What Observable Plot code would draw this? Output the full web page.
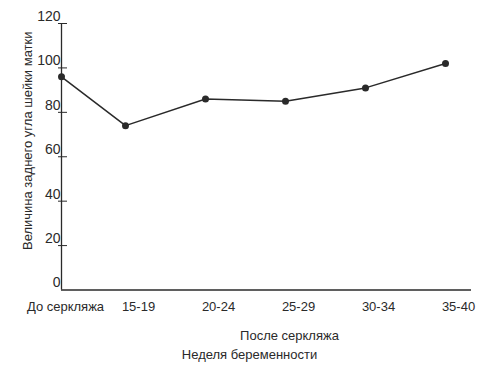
<!DOCTYPE html>
<html><head><meta charset="utf-8">
<script src="https://cdn.jsdelivr.net/npm/d3@7"></script>
<script src="https://cdn.jsdelivr.net/npm/@observablehq/plot@0.6"></script>
<style>body{margin:0;background:#fff}</style>
</head><body><div id="chart"></div>
<script>
const categories = ["До серкляжа", "15-19", "20-24", "25-29", "30-34", "35-40"];
const weekMid = [13, 17, 22, 27, 32, 37];
const angle = [96, 74, 86, 85, 91, 102];
const yTicks = [0, 20, 40, 60, 80, 100, 120];
const yTitle = "Величина заднего угла шейки матки";
const xTitle = "Неделя беременности";
const xSubTitle = "После серкляжа";

const data = categories.map((c, i) => ({c, w: weekMid[i], v: angle[i]}));
const labelOf = w => categories[weekMid.indexOf(w)];
const font = "'Liberation Sans', Arial, sans-serif";
const ink = "#2a2a2a";

const chart = Plot.plot({
  width: 500, height: 375,
  marginLeft: 61, marginRight: 29, marginTop: 23, marginBottom: 85.5,
  style: {fontFamily: font, fontSize: "13px", color: ink, background: "#fff"},
  x: {type: "linear", domain: [13, 38.625], axis: null},
  y: {domain: [0, 120], axis: null},
  marks: [
    Plot.ruleX([13], {y1: 0, y2: 120, stroke: ink, strokeWidth: 1.3}),
    Plot.ruleY([0], {stroke: ink, strokeWidth: 1.3}),
    Plot.axisY(yTicks.slice(1), {anchor: "left", label: null, tickSize: -6, tickFormat: () => "", stroke: ink}),
    Plot.axisY(yTicks.slice(1), {anchor: "left", label: null, tickSize: 3, tickFormat: () => "", stroke: ink}),
    Plot.axisY(yTicks, {anchor: "left", label: null, tickSize: 0, tickPadding: 1, dy: -7, fontSize: 14, fill: ink}),
    Plot.axisX([weekMid[0]], {anchor: "bottom", label: null, tickSize: 0, tickPadding: 12, dx: 4, tickFormat: labelOf, fontSize: 13, fill: ink}),
    Plot.axisX(weekMid.slice(1), {anchor: "bottom", label: null, tickSize: 0, tickPadding: 12, dx: 13, tickFormat: labelOf, fontSize: 13, fill: ink}),
    Plot.line(data, {x: "w", y: "v", stroke: ink, strokeWidth: 1.5}),
    Plot.dot(data, {x: "w", y: "v", r: 3.5, fill: ink, stroke: "none"}),
    Plot.text([xSubTitle], {frameAnchor: "bottom", dx: 23, dy: 50, fontSize: 13, fill: ink}),
    Plot.text([xTitle], {frameAnchor: "bottom", dx: -17, dy: 69, fontSize: 13, fill: ink}),
    Plot.text([yTitle], {frameAnchor: "left", textAnchor: "middle", rotate: -90, dx: -34, dy: -16, fontSize: 13, fill: ink})
  ]
});
document.getElementById("chart").append(chart);
</script></body></html>
